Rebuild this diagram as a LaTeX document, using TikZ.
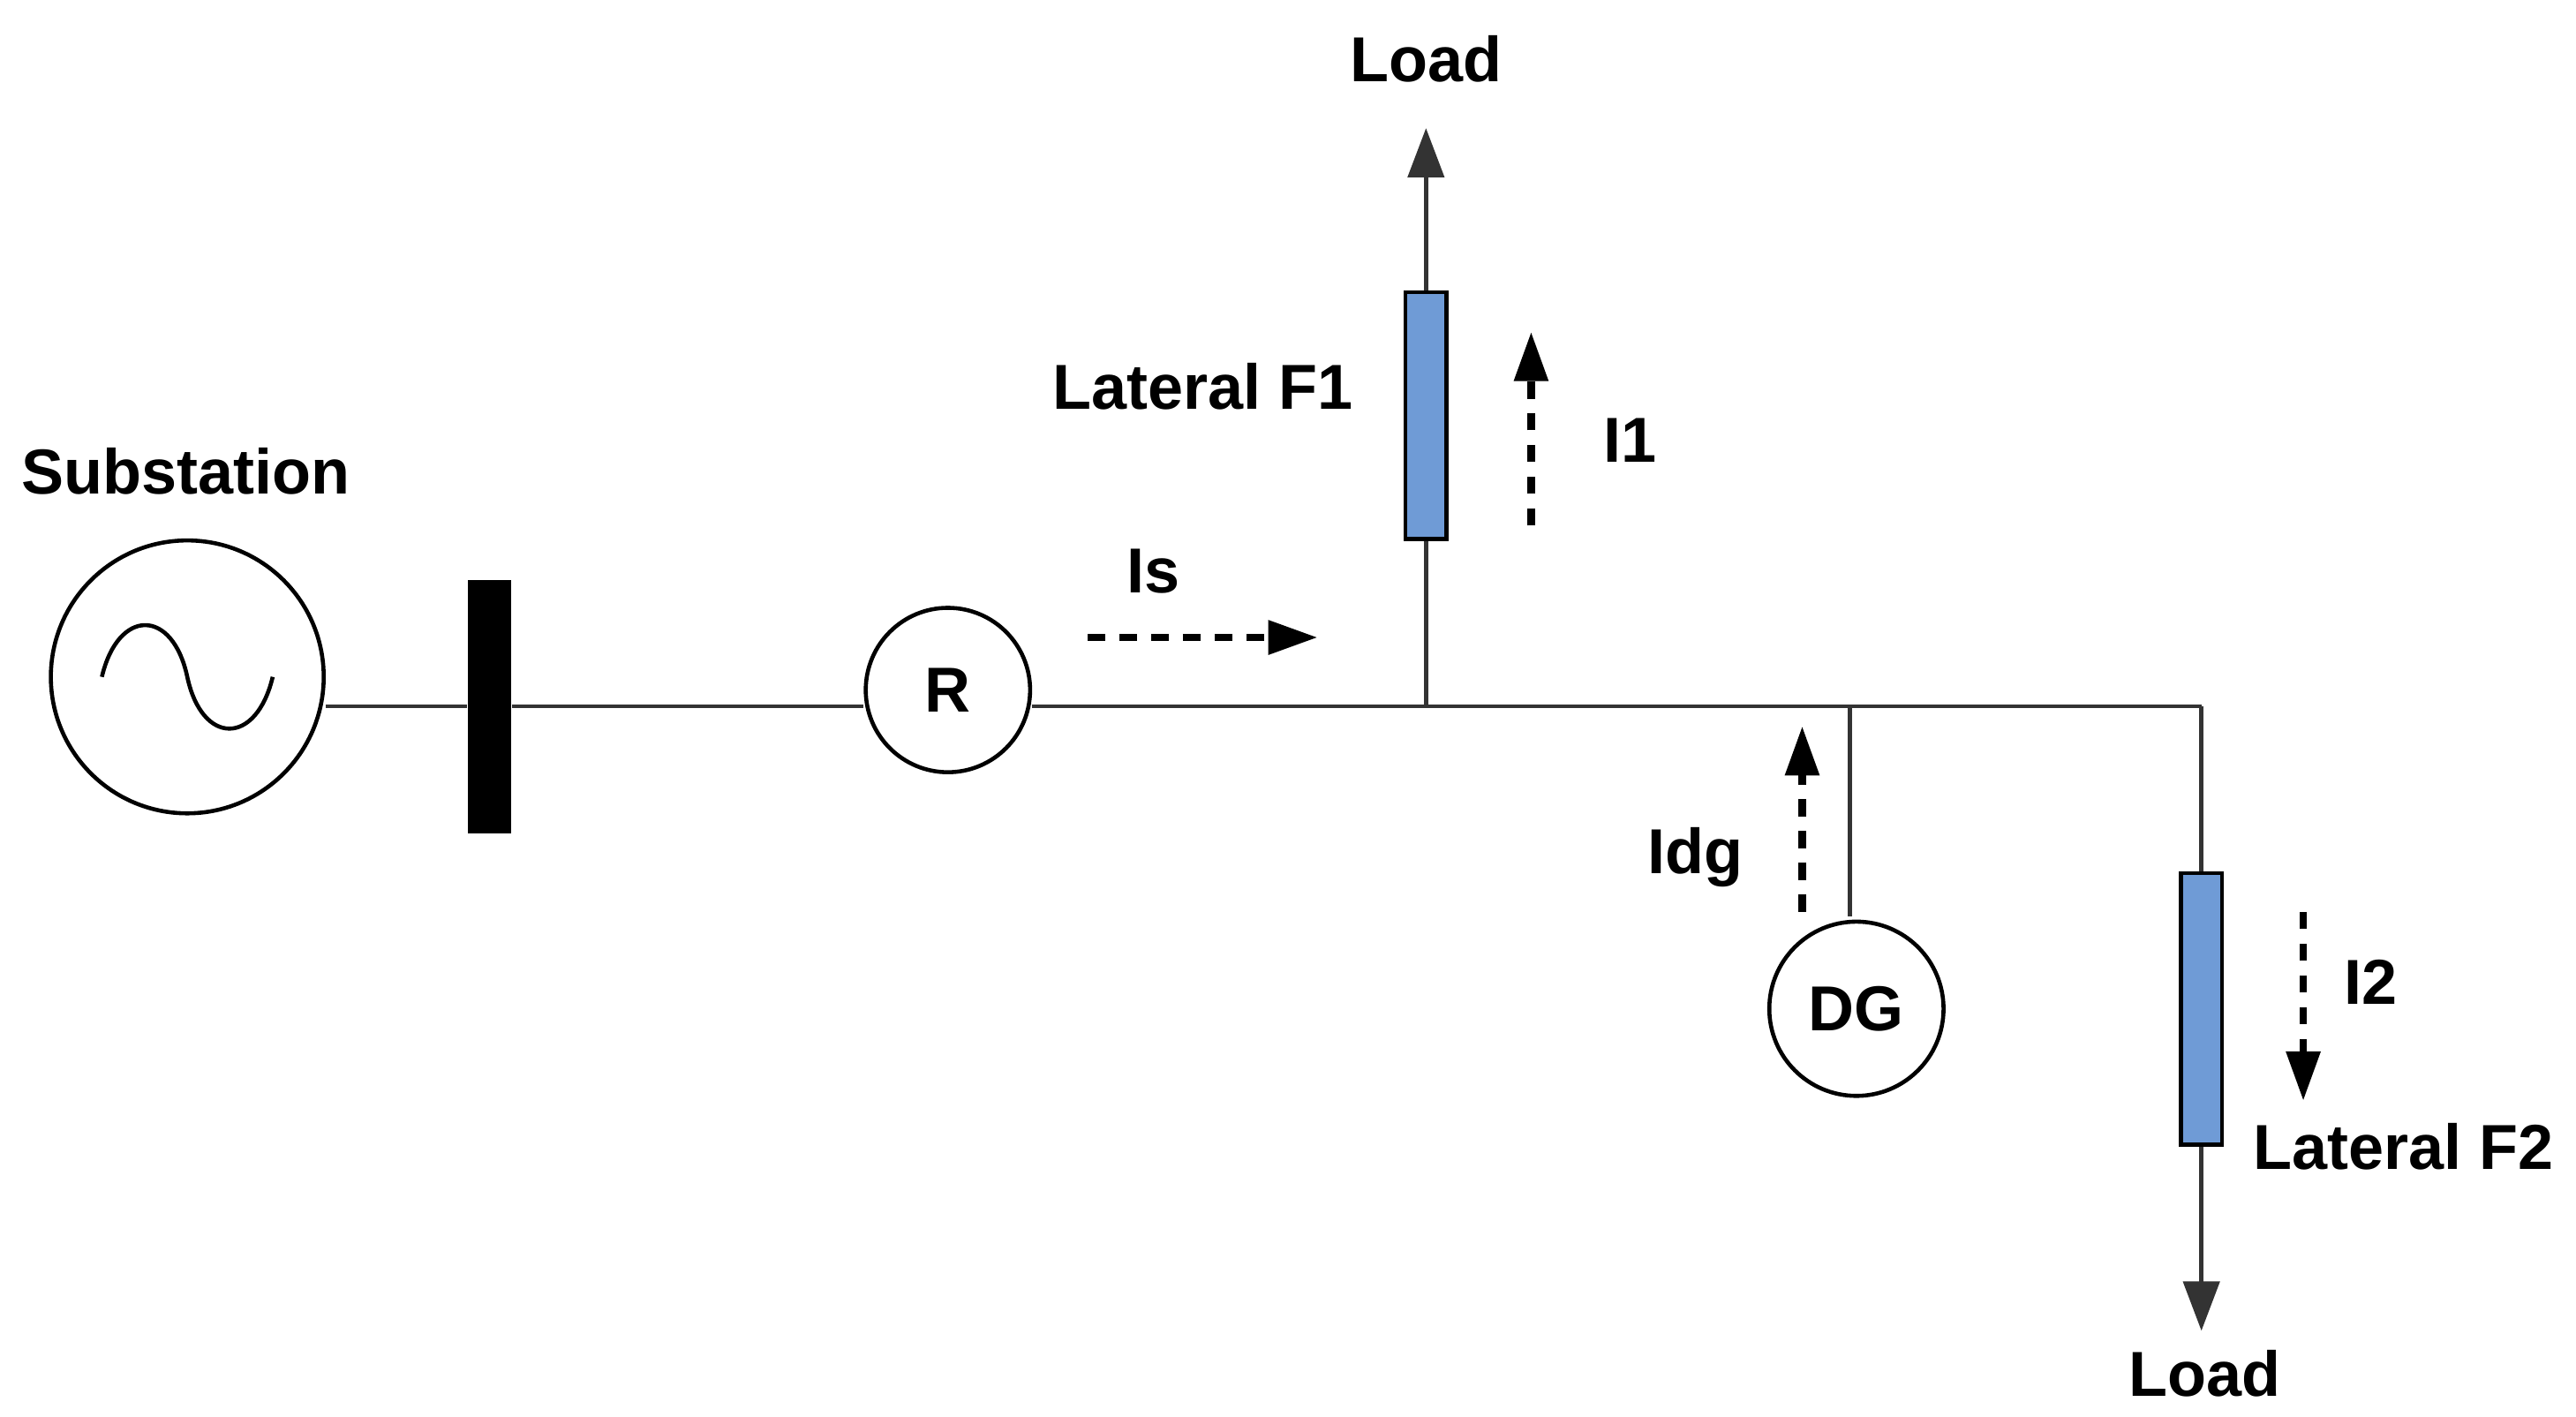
\documentclass[tikz,border=0pt]{standalone}
\usepackage{fontspec}
\setmainfont{Liberation Sans}
\usetikzlibrary{arrows.meta}
\definecolor{lat}{HTML}{6F9BD6}
\begin{document}
\begin{tikzpicture}[x=0.01cm,y=-0.01cm,
  lbl/.style={font=\fontsize{11}{13}\selectfont\bfseries},
  wire/.style={line width=0.7pt,draw=black!80},
  circ/.style={circle,draw,line width=0.7pt,inner sep=0pt},
  arr/.style={-{Triangle[width=0.22cm,length=0.3cm]}},
  flow/.style={line width=1.3pt,dash pattern=on 3pt off 2.5pt,-{Triangle[width=0.2cm,length=0.3cm]}},
  lateral/.style={draw=black,fill=lat,line width=0.7pt,minimum width=0.25cm,minimum height=1.5cm,inner sep=0pt}]
\useasboundingbox (0,0) rectangle (1568,862);
\node[circ,minimum size=1.66cm] (src) at (114,412) {};
\draw[line width=0.7pt] (62,412) .. controls (72,370) and (105,370) .. (114,412) .. controls (123,454) and (156,454) .. (166,412);
\node[lbl] (sub) at (113,287) {Substation};
\node[fill=black,minimum width=0.26cm,minimum height=1.54cm,inner sep=0pt] (bus) at (298,430) {};
\node[circ,minimum size=1.0cm] (R) at (577,420) {\fontsize{11}{13}\selectfont\bfseries R};
\coordinate (j1) at (868,430);
\coordinate (j2) at (1126,430);
\coordinate (j3) at (1340,430);
\draw[wire] (src.east|-0,430) -- (bus);
\draw[wire] (bus) -- (R.west|-0,430);
\draw[wire] (R.east|-0,430) -- (j3);
% lateral F1
\node[lateral] (f1) at (868,253) {};
\coordinate (t1) at (868,78);
\draw[wire] (j1) -- (f1.south);
\draw[wire,arr] (f1.north) -- (t1);
\node[lbl] (load1) at (868,36) {Load};
\node[lbl,anchor=east] (lf1) at (836,235) {Lateral F1};
\coordinate (i1a) at (932,320); \coordinate (i1b) at (932,202);
\draw[flow] (i1a) -- (i1b);
\node[lbl] (i1) at (992,268) {I1};
\coordinate (isa) at (662,388); \coordinate (isb) at (802,388);
\draw[flow] (isa) -- (isb);
\node[lbl] (is) at (702,348) {Is};
% DG
\node[circ,minimum size=1.06cm] (dg) at (1130,614) {\fontsize{11}{13}\selectfont\bfseries DG};
\draw[wire] (j2) -- (1126,558);
\coordinate (dga) at (1097,555); \coordinate (dgb) at (1097,442);
\draw[flow] (dga) -- (dgb);
\node[lbl] (idg) at (1032,522) {Idg};
% lateral F2
\node[lateral,minimum height=1.65cm] (f2) at (1340,614) {};
\coordinate (t2) at (1340,810);
\draw[wire] (j3) -- (f2.north);
\draw[wire,arr] (f2.south) -- (t2);
\node[lbl] (load2) at (1342,836) {Load};
\node[lbl] (lf2) at (1463,698) {Lateral F2};
\coordinate (i2a) at (1402,555); \coordinate (i2b) at (1402,670);
\draw[flow] (i2a) -- (i2b);
\node[lbl] (i2) at (1443,598) {I2};
\end{tikzpicture}
\end{document}
